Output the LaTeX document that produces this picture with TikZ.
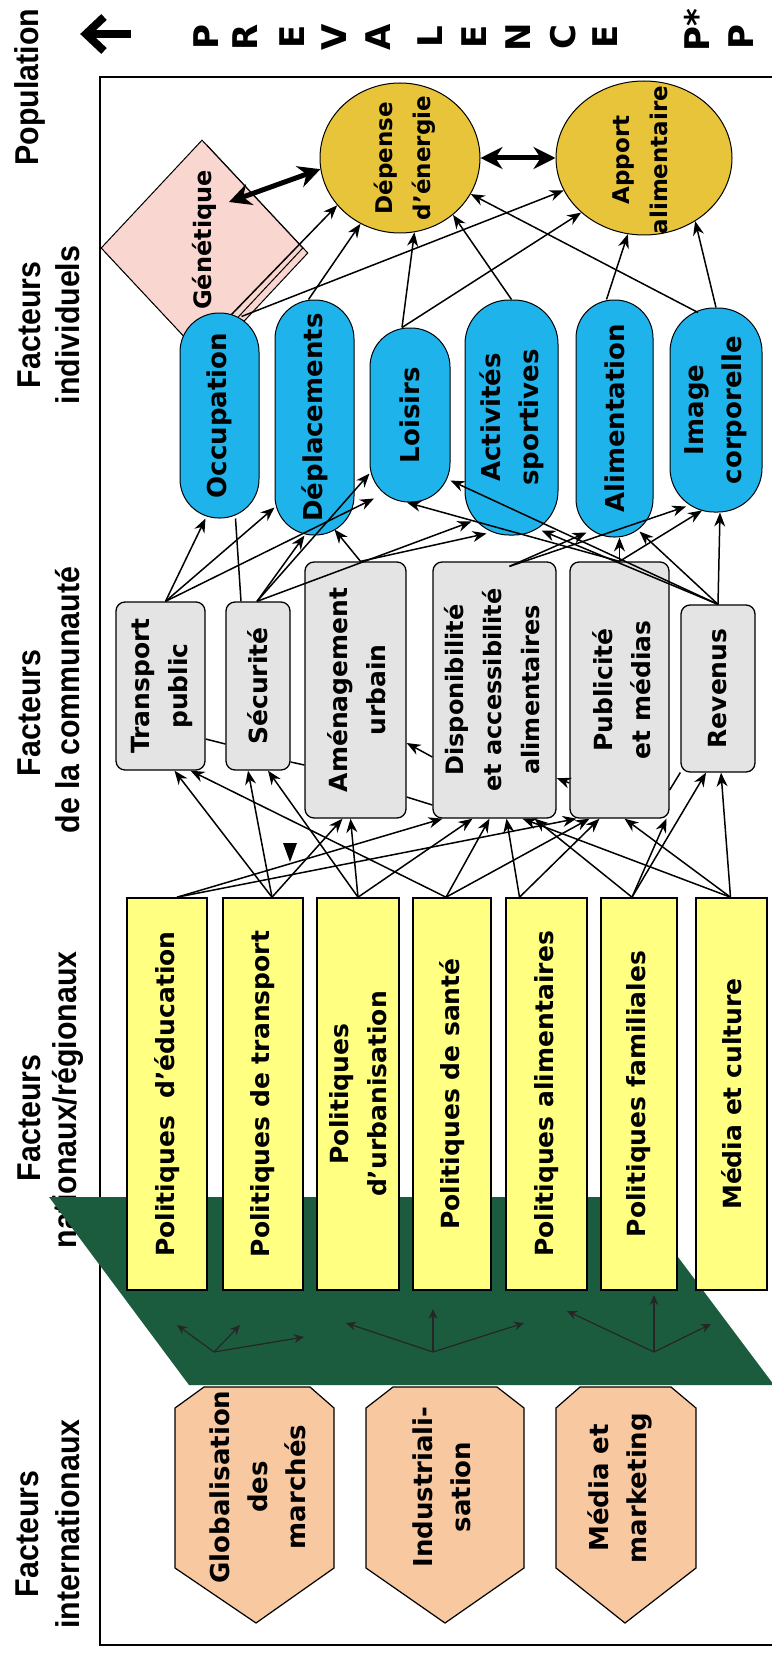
\documentclass[tikz,border=0pt]{standalone}
\usepackage{fontspec}
\setmainfont{DejaVu Sans}
\newfontfamily\hdrfont[FakeStretch=0.92]{Liberation Sans}
\usetikzlibrary{shapes.geometric,arrows.meta,calc}
\definecolor{pillblue}{RGB}{30,180,235}
\definecolor{ellyel}{RGB}{232,196,58}
\definecolor{pinkd}{RGB}{250,214,208}
\definecolor{grayb}{RGB}{228,228,228}
\definecolor{yelb}{RGB}{255,255,130}
\definecolor{greenp}{RGB}{28,92,62}
\definecolor{peach}{RGB}{248,200,160}
\begin{document}
\begin{tikzpicture}[x=1pt,y=-1pt,
  hdr/.style={rotate=90, inner sep=0pt, font=\hdrfont\bfseries\fontsize{33}{38}\selectfont},
  letter/.style={rotate=90, inner sep=0pt, font=\bfseries\fontsize{34}{34}\selectfont},
  rt/.style={rotate=90, inner sep=0pt, align=center, font=\bfseries\fontsize{#1}{38}\selectfont},
  rt/.default=25,
  pill/.style={draw, line width=1pt, fill=pillblue, rounded corners=#1, inner sep=0pt},
  cbox/.style={draw, line width=1.3pt, fill=grayb, rounded corners=9pt, inner sep=0pt},
  ybox/.style={draw, line width=1.6pt, fill=yelb, inner sep=0pt, minimum height=392pt},
  ell/.style={draw, line width=1pt, fill=ellyel, ellipse, inner sep=0pt},
  arr/.style={-{Stealth[length=14pt,width=11pt]}, line width=1.5pt},
  ln/.style={line width=1.5pt},
  thk/.style={{Stealth[length=22pt,width=22pt]}-{Stealth[length=22pt,width=22pt]}, line width=5pt},
  sm/.style={-{Stealth[length=10pt,width=9pt]}, line width=1.2pt, draw=black!85}
]
\useasboundingbox (0,0) rectangle (771,1653);
\fill[white] (0,0) rectangle (771,1653);

% ---------- header ----------
\node[hdr] (pop) at (30,87) {Population};
\draw[line width=8pt] (131,34) -- (90,34);
\draw[line width=8pt, line join=miter, line cap=butt] (104,17) -- (86,34) -- (104,51);
\foreach \ch/\xx [count=\i] in {P/206,R/245,E/292,V/334,A/378,L/430,E/474,N/518,C/563,E/605}
  \node[letter] (pl\i) at (\xx,37) {\ch};
\node[letter] (pstar) at (697,30) {P*};
\node[letter] (pp) at (741,37) {P};

\node[hdr] (h1a) at (29,325) {Facteurs};
\node[hdr] (h1b) at (68,325) {individuels};
\node[hdr] (h2a) at (29,713) {Facteurs};
\node[hdr] (h2b) at (68,700) {de la communauté};
\node[hdr] (h3a) at (29,1118) {Facteurs};
\node[hdr] (h3b) at (68,1100) {nationaux/régionaux};
\node[hdr] (h4a) at (27,1534) {Facteurs};
\node[hdr] (h4b) at (68,1524) {internationaux};

% main frame
\draw[line width=1.6pt] (790,77) -- (100,77) -- (100,1645) -- (790,1645);

% ---------- green platform ----------
\fill[greenp] (49,1197) -- (633,1197) -- (774,1385) -- (189,1385) -- cycle;
\coordinate (g1) at (214,1352);
\coordinate (g1a) at (177,1325);
\coordinate (g1b) at (240,1325);
\coordinate (g1c) at (304,1337);
\coordinate (g2) at (433,1352);
\coordinate (g2a) at (346,1323);
\coordinate (g2b) at (433,1309);
\coordinate (g2c) at (524,1323);
\coordinate (g3) at (654,1352);
\coordinate (g3a) at (567,1311);
\coordinate (g3b) at (654,1295);
\coordinate (g3c) at (711,1324);
\foreach \a in {g1a,g1b,g1c} \draw[sm] (g1) -- (\a);
\foreach \a in {g2a,g2b,g2c} \draw[sm] (g2) -- (\a);
\foreach \a in {g3a,g3b,g3c} \draw[sm] (g3) -- (\a);

% ---------- hexagons ----------
\filldraw[fill=peach, line width=1.2pt] (204,1387) -- (310,1387) -- (334,1408) -- (334,1568) -- (256,1623) -- (175,1568) -- (175,1408) -- cycle;
\filldraw[fill=peach, line width=1.2pt] (393,1387) -- (497,1387) -- (524,1408) -- (524,1568) -- (445,1623) -- (366,1568) -- (366,1408) -- cycle;
\filldraw[fill=peach, line width=1.2pt] (580,1387) -- (671,1387) -- (696,1408) -- (696,1568) -- (625,1623) -- (556,1568) -- (556,1408) -- cycle;
\node[rt=26] (i1) at (258,1487) {Globalisation\\des\\marchés};
\node[rt=26] (i2) at (442,1487) {Industriali-\\sation};
\node[rt=26] (i3) at (620,1488) {Média et\\marketing};

% ---------- yellow boxes ----------
\node[ybox, minimum width=80pt] (edu) at (167,1094) {};
\node[ybox, minimum width=80pt] (tra) at (263,1094) {};
\node[ybox, minimum width=82pt] (urb) at (358,1094) {};
\node[ybox, minimum width=78pt] (san) at (452,1094) {};
\node[ybox, minimum width=81pt] (ali) at (546.5,1094) {};
\node[ybox, minimum width=76pt] (fam) at (639,1094) {};
\node[ybox, minimum width=71pt] (med) at (731.5,1094) {};
\node[rt] (edut) at (edu) {Politiques\ \ d’éducation};
\node[rt] (trat) at (tra) {Politiques de transport};
\node[rt] (urbt) at (urb) {Politiques\\d’urbanisation};
\node[rt] (sant) at (san) {Politiques de santé};
\node[rt] (alit) at (ali) {Politiques alimentaires};
\node[rt] (famt) at (fam) {Politiques familiales};
\node[rt] (medt) at (med) {Média et culture};

% ---------- community boxes ----------
\node[cbox, minimum width=89pt, minimum height=168pt] (tp) at (160.5,686) {};
\node[cbox, minimum width=64pt, minimum height=168pt] (sec) at (258,686) {};
\node[cbox, minimum width=101pt, minimum height=256pt] (am) at (355.5,690) {};
\node[cbox, minimum width=123pt, minimum height=256pt] (dis) at (494.5,690) {};
\node[cbox, minimum width=99pt, minimum height=256pt] (pub) at (619.5,690) {};
\node[cbox, minimum width=74pt, minimum height=167pt] (rev) at (718,688.5) {};
\node[rt] (tpt) at (162,686) {Transport\\public};
\node[rt] (sect) at (sec) {Sécurité};
\node[rt] (amt) at (357,690) {Aménagement\\urbain};
\node[rt=24] (dist) at (492,690) {Disponibilité\\et accessibilité\\alimentaires};
\node[rt] (pubt) at (622,690) {Publicité\\et médias};
\node[rt] (revt) at (rev) {Revenus};

% links between neighbouring community boxes
\draw[ln] ([yshift=-53pt]tp.east) -- ([yshift=-58pt]sec.west);
\draw[ln] ([yshift=-76pt]sec.east) -- ([yshift=-75pt]am.west);
\draw[arr] ([yshift=-67pt]dis.west) -- ([yshift=-53pt]am.east);
\draw[ln] ([yshift=-107pt]am.east) -- ([yshift=-115pt]dis.west);
\draw[arr] ([yshift=-93pt]pub.west) -- ([yshift=-88pt]dis.east);
\draw[ln] ([yshift=-100pt]pub.east) -- ([yshift=-84pt]rev.west);

% ---------- bottom arrows (yellow -> community) ----------
\draw[arr] ([xshift=10pt]edu.north) -- ([xshift=-52pt]dis.south);
\draw[arr] ([xshift=10pt]edu.north) -- ([xshift=-43pt]pub.south);
\draw[arr] ([xshift=9pt]tra.north) -- ([xshift=14pt]tp.south);
\draw[arr] ([xshift=9pt]tra.north) -- ([xshift=-10pt]sec.south);
\draw[arr] ([xshift=9pt]tra.north) -- ([xshift=-13pt]am.south);
\draw[arr] (urb.north) -- ([xshift=-5pt]am.south);
\draw[arr] (urb.north) -- ([xshift=10pt]sec.south);
\draw[arr] (urb.north) -- ([xshift=-22pt]dis.south);
\draw[arr] ([xshift=-6pt]san.north) -- ([xshift=30pt]tp.south);
\draw[arr] ([xshift=-6pt]san.north) -- ([xshift=-5pt]dis.south);
\draw[arr] ([xshift=-6pt]san.north) -- ([xshift=-30pt]pub.south);
\draw[arr] ([xshift=-27pt]ali.north) -- ([xshift=12pt]dis.south);
\draw[arr] ([xshift=-27pt]ali.north) -- ([xshift=-20pt]pub.south);
\draw[arr] ([xshift=-7pt]fam.north) -- ([xshift=40pt]dis.south);
\draw[arr] ([xshift=-7pt]fam.north) -- ([xshift=47pt]pub.south);
\draw[arr] ([xshift=-7pt]fam.north) -- ([xshift=-12pt]rev.south);
\draw[arr] ([xshift=-1pt]med.north) -- ([xshift=3pt]rev.south);
\draw[arr] ([xshift=-1pt]med.north) -- ([xshift=5pt]pub.south);
\draw[arr] ([xshift=-1pt]med.north) -- ([xshift=28pt]dis.south);
\fill (283,843) -- (297,843) -- (290,862) -- cycle;

% ---------- genetics (behind the pills) ----------
\node[diamond, draw, fill=pinkd, line width=1pt, minimum width=202pt, minimum height=216pt, inner sep=0pt] (gensh) at (207,253) {};
\node[diamond, draw, fill=pinkd, line width=1pt, minimum width=202pt, minimum height=216pt, inner sep=0pt] (gen) at (202,248) {};
\node[rt=24] (gent) at (204,240) {Génétique};

% ---------- individual pills ----------
\node[pill=39pt, minimum width=79pt, minimum height=205pt] (occ) at (219.5,415.5) {};
\node[pill=39pt, minimum width=79pt, minimum height=235pt] (depl) at (314.5,417.5) {};
\node[pill=39pt, minimum width=80pt, minimum height=174pt] (lois) at (410,415) {};
\node[pill=44pt, minimum width=93pt, minimum height=235pt] (act) at (511.5,417.5) {};
\node[pill=38pt, minimum width=77pt, minimum height=237pt] (alim) at (614.5,418.5) {};
\node[pill=44pt, minimum width=92pt, minimum height=204pt] (img) at (716,410) {};
\node[rt=26] (occt) at (occ) {Occupation};
\node[rt=26] (deplt) at (depl) {Déplacements};
\node[rt=26] (loist) at (lois) {Loisirs};
\node[rt=26] (actt) at (act) {Activités\\sportives};
\node[rt=26] (alimt) at (alim) {Alimentation};
\node[rt=26] (imgt) at (img) {Image\\corporelle};

% ---------- middle arrows (community -> individual) ----------
\draw[arr] ([xshift=5pt]tp.north) -- ([xshift=-14pt]occ.south);
\draw[arr] ([xshift=5pt]tp.north) -- ([yshift=28pt]depl.south west);
\draw[arr] ([xshift=5pt]tp.north) -- ([xshift=-36pt,yshift=4pt]lois.south);
\draw[ln] ([xshift=-17pt]sec.north) -- ([xshift=16pt]occ.south);
\draw[arr] ([xshift=-1pt]sec.north) -- ([xshift=-10pt]depl.south);
\draw[arr] ([xshift=-1pt]sec.north) -- ([yshift=29pt]lois.south west);
\draw[arr] ([xshift=-1pt]sec.north) -- ([xshift=-40pt,yshift=14pt]act.south);
\draw[arr] ([xshift=5pt]am.north) -- ([xshift=20pt,yshift=6pt]depl.south);
\draw[arr] ([xshift=5pt]am.north) -- ([xshift=-25pt,yshift=2pt]act.south);
\draw[arr] ([xshift=15pt,yshift=-5pt]dis.north) -- ([xshift=-28pt,yshift=5pt]alim.south);
\draw[arr] ([xshift=15pt,yshift=-5pt]dis.north) -- ([xshift=-30pt,yshift=6pt]img.south);
\draw[arr] (pub.north) -- ([xshift=-3pt]lois.south);
\draw[arr] (pub.north) -- ([xshift=5pt]alim.south);
\draw[arr] (pub.north) -- ([xshift=-14pt,yshift=2pt]img.south);
\draw[arr] (rev.north) -- ([xshift=4pt]img.south);
\draw[arr] (rev.north) -- ([xshift=25pt,yshift=6pt]alim.south);
\draw[arr] (rev.north) -- ([xshift=30pt,yshift=5pt]act.south);
\draw[arr] (rev.north) -- ([yshift=22pt]lois.south east);

% ---------- ellipses ----------
\node[ell, minimum width=160pt, minimum height=150pt] (dep) at (400,158) {};
\node[ell, minimum width=176pt, minimum height=154pt] (app) at (644,158) {};
\node[rt=23] (dept) at (405,158) {Dépense\\d’énergie};
\node[rt=23] (appt) at (640,160) {Apport\\alimentaire};

% thin arrows to ellipses
\draw[arr] ([xshift=12pt,yshift=-2pt]occ.north) -- (dep.217);
\draw[arr] ([xshift=22pt,yshift=-4pt]occ.north) -- (app.202);
\draw[arr] ([xshift=-6pt]depl.north) -- (dep.239);
\draw[arr] ([xshift=-8pt]lois.north) -- (dep.281);
\draw[arr] ([xshift=-8pt]lois.north) -- (app.221);
\draw[arr] (act.north) -- (dep.313);
\draw[arr] ([xshift=-8pt]alim.north) -- (app.258);
\draw[arr] ([xshift=-18pt,yshift=-5pt]img.north) -- (dep.333);
\draw[arr] (img.north) -- (app.309);
% thick arrows
\coordinate (genp) at (229,202);
\draw[thk] (genp) -- (dep.188);
\draw[thk] (dep.east) -- (app.west);
\end{tikzpicture}
\end{document}
